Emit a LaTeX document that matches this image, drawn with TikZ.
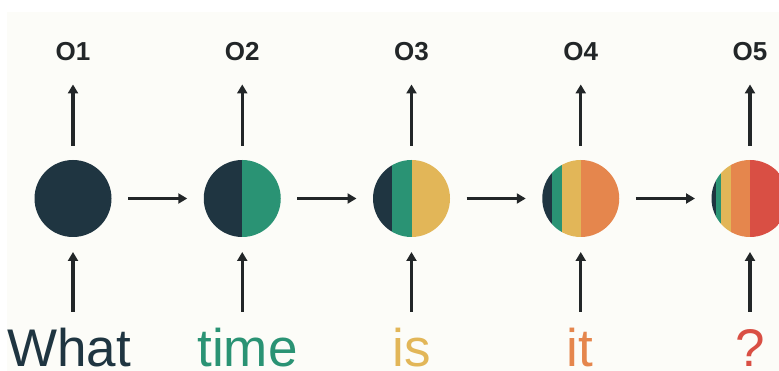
\documentclass[tikz,border=0pt]{standalone}
\usepackage{fontspec}
\setmainfont{Liberation Sans}
\usetikzlibrary{arrows.meta}
\definecolor{cdark}{HTML}{1F3541}
\definecolor{cgreen}{HTML}{2A9374}
\definecolor{cyellow}{HTML}{E2B658}
\definecolor{corange}{HTML}{E5864D}
\definecolor{cred}{HTML}{D94F44}
\definecolor{carrow}{HTML}{222628}
\definecolor{bgc}{HTML}{FCFCF8}
\newcommand{\stripe}[4]{\fill[#2] (#1.center) ++(#3,-40) rectangle ++({#4-(#3)},80);}
\begin{document}
\begin{tikzpicture}[x=1pt,y=-1pt,
  ball/.style={circle, minimum size=77pt, inner sep=0pt, outer sep=0pt, draw=none},
  arr/.style={draw=carrow, line width=3.2pt, -{Triangle[length=9pt,width=10pt]}},
  olab/.style={font=\bfseries\fontsize{26}{26}\selectfont, text=carrow, inner sep=0pt, anchor=base},
  word/.style={font=\fontsize{53}{53}\selectfont, inner sep=0pt, anchor=base}]
\useasboundingbox (0,0) rectangle (779,371);
\fill[white] (0,0) rectangle (779,371);
\fill[bgc] (7,12) rectangle (779,371);

% circles
\node[ball] (c1) at (73,198.5) {};
\node[ball] (c2) at (242.25,198.5) {};
\node[ball] (c3) at (411.5,198.5) {};
\node[ball] (c4) at (580.75,198.5) {};
\node[ball] (c5) at (750,198.5) {};

\fill[cdark] (c1.center) circle (38.5);
\begin{scope}
  \clip (c2.center) circle (38.5);
  \stripe{c2}{cdark}{-40}{0}
  \stripe{c2}{cgreen}{0}{40}
\end{scope}
\begin{scope}
  \clip (c3.center) circle (38.5);
  \stripe{c3}{cdark}{-40}{-19.25}
  \stripe{c3}{cgreen}{-19.25}{0}
  \stripe{c3}{cyellow}{0}{40}
\end{scope}
\begin{scope}
  \clip (c4.center) circle (38.5);
  \stripe{c4}{cdark}{-40}{-28.9}
  \stripe{c4}{cgreen}{-28.9}{-19.25}
  \stripe{c4}{cyellow}{-19.25}{0}
  \stripe{c4}{corange}{0}{40}
\end{scope}
\begin{scope}
  \clip (c5.center) circle (38.5);
  \stripe{c5}{cdark}{-40}{-33.7}
  \stripe{c5}{cgreen}{-33.7}{-28.9}
  \stripe{c5}{cyellow}{-28.9}{-19.25}
  \stripe{c5}{corange}{-19.25}{0}
  \stripe{c5}{cred}{0}{40}
\end{scope}

% output labels
\node[olab] (o1) at (73,61) {O1};
\node[olab] (o2) at (242.25,61) {O2};
\node[olab] (o3) at (411.5,61) {O3};
\node[olab] (o4) at (580.75,61) {O4};
\node[olab] (o5) at (750,61) {O5};

% words
\node[word, text=cdark] (w1) at (69,366) {What};
\node[word, text=cgreen] (w2) at (247.5,366) {time};
\node[word, text=cyellow] (w3) at (411.5,366) {is};
\node[word, text=corange] (w4) at (580,366) {it};
\node[word, text=cred] (w5) at (750,366) {?};

\coordinate (t1) at (73,312);
\coordinate (t2) at (242.25,312);
\coordinate (t3) at (411.5,312);
\coordinate (t4) at (580.75,312);
\coordinate (t5) at (750,312);

% connectors
\foreach \i in {1,...,5} {
  \draw[arr, shorten <=14pt, shorten >=23pt] (c\i.north) -- (o\i.south);
  \draw[arr, shorten >=15pt] (t\i) -- (c\i.south);
}
\foreach \i/\j in {1/2,2/3,3/4,4/5} {
  \draw[arr, shorten <=16.5pt, shorten >=16.5pt] (c\i) -- (c\j);
}
\end{tikzpicture}
\end{document}
